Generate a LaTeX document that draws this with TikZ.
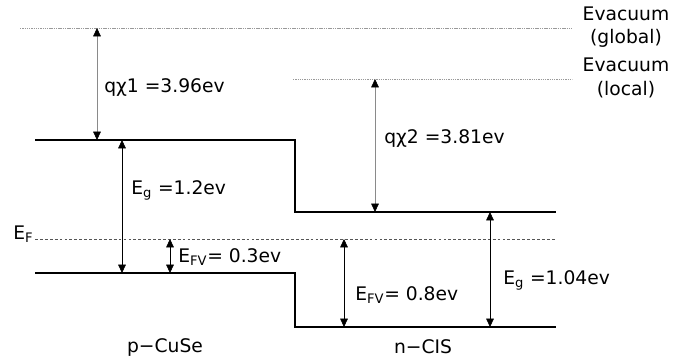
\documentclass[tikz,border=0pt]{standalone}
\usepackage{fontspec}
\setmainfont{DejaVu Sans}
\usetikzlibrary{arrows.meta}
\definecolor{vacgray}{HTML}{999999}
\definecolor{chigray}{HTML}{8A8A8A}
\definecolor{efgray}{HTML}{555555}

\begin{document}
\begin{tikzpicture}[x=0.025cm,y=-0.025cm,font=\fontsize{13.3}{16.5}\selectfont,
  band/.style={line width=1.4pt},
  vac/.style={vacgray,dash pattern=on 1pt off 0.6pt,line width=0.5pt},
  gap/.style={{Triangle[black,length=6pt,width=5.5pt]}-{Triangle[black,length=6pt,width=5.5pt]},line width=0.5pt},
  lab/.style={anchor=west,inner sep=0pt}]
\useasboundingbox (0,0) rectangle (675,360);
% energy levels
\coordinate (vg-l) at (20,28);   \coordinate (vg-r) at (572,28);
\coordinate (vl-l) at (293,79);  \coordinate (vl-r) at (572,79);
\coordinate (pc-l) at (35,140);  \coordinate (pc-r) at (295,140);
\coordinate (nc-l) at (295,212); \coordinate (nc-r) at (556,212);
\coordinate (pv-l) at (35,273);  \coordinate (pv-r) at (295,273);
\coordinate (nv-l) at (295,327); \coordinate (nv-r) at (556,327);
\coordinate (ef-l) at (35,239);  \coordinate (ef-r) at (556,239);
\draw[vac] (vg-l) -- (vg-r);
\draw[vac] (vl-l) -- (vl-r);
\draw[band] (pc-l) -- (pc-r) -- (nc-l) -- (nc-r);
\draw[band] (pv-l) -- (pv-r) -- (nv-l) -- (nv-r);
\draw[efgray,dash pattern=on 2pt off 1.5pt,line width=0.6pt] (ef-l) -- (ef-r);
\node[anchor=base east,inner sep=1pt] (ef) at (ef-l) {E\textsubscript{F}};
% gaps
\foreach \nm/\x/\top/\bot/\col in {chia/97/vg-l/pc-l/chigray, gpa/122/pc-l/pv-l/black,
    fva/170/ef-l/pv-l/black, chib/375/vl-l/nc-l/chigray, fvb/344/ef-l/nv-l/black,
    gpb/490/nc-l/nv-l/black}{
  \coordinate (\nm) at (\x,0);
  \draw[gap,\col] (\nm |- \top) -- (\nm |- \bot);
}
\node[lab] (chia-t) at (104,88) {qχ1 =3.96ev};
\node[lab] (gpa-t) at (131,190) {E\textsubscript{g} =1.2ev};
\node[lab] (fva-t) at (178,257) {E\textsubscript{FV}= 0.3ev};
\node[lab] (chib-t) at (384,139) {qχ2 =3.81ev};
\node[lab] (fvb-t) at (355,295) {E\textsubscript{FV}= 0.8ev};
\node[lab] (gpb-t) at (503,280) {E\textsubscript{g} =1.04ev};
\node[align=center,inner sep=0pt] (vg-t) at (626,27) {Evacuum\\(global)};
\node[align=center,inner sep=0pt] (vl-t) at (626,78) {Evacuum\\(local)};
\node (p-t) at (165,348) {p−CuSe};
\node (n-t) at (423,347) {n−CIS};
\end{tikzpicture}
\end{document}
